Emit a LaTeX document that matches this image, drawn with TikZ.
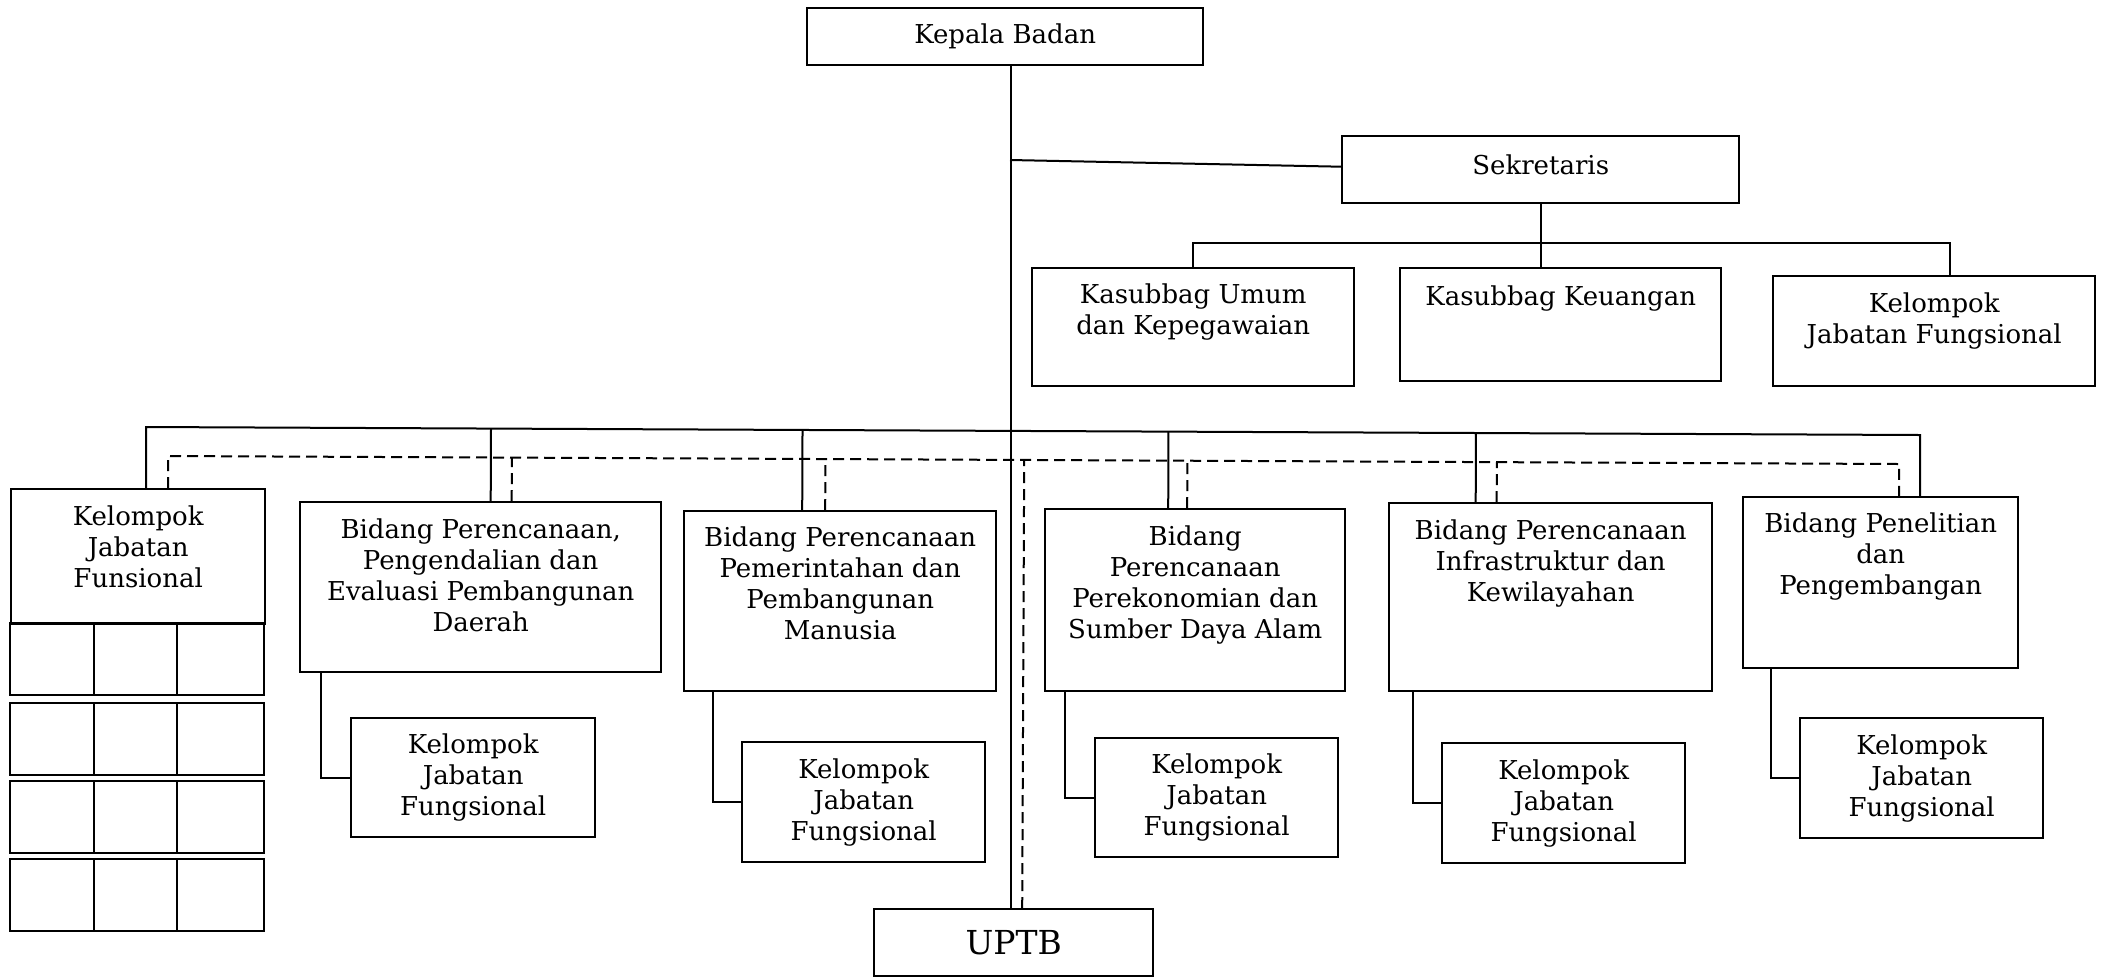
\documentclass[tikz,border=0pt]{standalone}
\usepackage{fontspec}
\setmainfont{DejaVu Serif}
\usetikzlibrary{positioning,calc}
\newcommand{\orgfont}{\fontsize{26}{31}\selectfont}
\tikzset{
  box/.style={draw, line width=2.4pt, inner sep=0pt, anchor=north west,
    align=center, font=\orgfont},
  txt/.style={inner sep=0pt, align=center, font=\orgfont},
  conn/.style={line width=2pt},
  dconn/.style={line width=2pt, dash pattern=on 11pt off 6pt},
}

\begin{document}
\begin{tikzpicture}[x=1pt,y=-1pt]
  \useasboundingbox (0,0) rectangle (2103,978);

  %% head and secretariat
  \node[box, minimum width=396pt, minimum height=57pt] (kep) at (806,7) {Kepala Badan};
  \node[box, minimum width=397pt, minimum height=67pt] (sek) at (1341,135) {};
  \node[txt] (sekt) at ([yshift=5pt]sek.center) {Sekretaris};
  \node[box, minimum width=322pt, minimum height=118pt] (umum) at (1031,267) {};
  \node[box, minimum width=321pt, minimum height=113pt] (keu) at (1399,267) {};
  \node[box, minimum width=322pt, minimum height=110pt] (kjfs) at (1772,275) {};
  \node[txt, below=17pt of umum.north] (umumt) {Kasubbag Umum\\dan Kepegawaian};
  \node[txt, below=19pt of keu.north] (keut) {Kasubbag Keuangan};
  \node[txt, below=18pt of kjfs.north] (kjfst) {Kelompok\\Jabatan Fungsional};

  %% bidang
  \node[box, minimum width=254pt, minimum height=135pt] (kjf0) at (10,488) {};
  \node[box, minimum width=361pt, minimum height=170pt] (bid1) at (299,501) {};
  \node[box, minimum width=312pt, minimum height=180pt] (bid2) at (683,510) {};
  \node[box, minimum width=300pt, minimum height=182pt] (bid3) at (1044,508) {};
  \node[box, minimum width=323pt, minimum height=188pt] (bid4) at (1388,502) {};
  \node[box, minimum width=275pt, minimum height=171pt] (pen) at (1742,496) {};

  \node[txt, below=18pt of kjf0.north] (kjf0t) {Kelompok\\Jabatan\\Funsional};
  \node[txt, below=18pt of bid1.north] (bid1t)
  {Bidang Perencanaan,\\Pengendalian dan\\Evaluasi Pembangunan\\Daerah};
  \node[txt, below=17pt of bid2.north] (bid2t)
  {Bidang Perencanaan\\Pemerintahan dan\\Pembangunan\\Manusia};
  \node[txt, below=18pt of bid3.north] (bid3t)
  {Bidang\\Perencanaan\\Perekonomian dan\\Sumber Daya Alam};
  \node[txt, below=18pt of bid4.north] (bid4t)
  {Bidang Perencanaan\\Infrastruktur dan\\Kewilayahan};
  \node[txt, below=17pt of pen.north] (pent)
  {Bidang Penelitian\\dan\\Pengembangan};

  %% kelompok jabatan fungsional
  \node[box, minimum width=244pt, minimum height=119pt] (kel1) at (350,717) {Kelompok\\Jabatan\\Fungsional};
  \node[box, minimum width=243pt, minimum height=120pt] (kel2) at (741,741) {Kelompok\\Jabatan\\Fungsional};
  \node[box, minimum width=243pt, minimum height=119pt] (kel3) at (1094,737) {Kelompok\\Jabatan\\Fungsional};
  \node[box, minimum width=243pt, minimum height=120pt] (kel4) at (1441,742) {Kelompok\\Jabatan\\Fungsional};
  \node[box, minimum width=243pt, minimum height=120pt] (kel5) at (1799,717) {Kelompok\\Jabatan\\Fungsional};

  \node[box, minimum width=279pt, minimum height=67pt,
    font=\fontsize{33}{40}\selectfont] (uptb) at (873,908) {UPTB};

  %% grid under kelompok
  \foreach \y in {623,703,781,859}
    \foreach \x/\w in {10/84,94/83,177/87}
      \draw[line width=2.4pt] (\x,\y) rectangle ++(\w,72);

  %% lines from the head
  \coordinate (mtop) at ([xshift=6pt]kep.south);
  \draw[conn] (mtop) -- (mtop |- uptb.north);
  \coordinate (jsek) at (1010,160);
  \draw[conn] (jsek) -- ([yshift=3pt]sek.west);
  \draw[conn] (sek.south) -- (sek.south |- keu.north);
  \draw[conn] (umum.north) -- ++(0,-24) -| ([xshift=16pt]kjfs.north);

  %% buses
  \coordinate (sa) at (146,427);
  \coordinate (sb) at (1920,435);
  \coordinate (da) at (168,456);
  \coordinate (db) at (1899,464);
  \draw[conn] (sa |- kjf0.north) -- (sa) -- (sb) -- (sb |- pen.north);
  \draw[dconn] (da |- kjf0.north) -- (da) -- (db) -- (db |- pen.north);

  \foreach \b/\s/\d in {bid1/10/31,bid2/-38/-15,bid3/-27/-8,bid4/-75/-54} {
    \coordinate (\b s) at ([xshift=\s pt]\b.north);
    \coordinate (\b d) at ([xshift=\d pt]\b.north);
    \draw[conn] (\b s) -- ($(sa)!(\b s)!(sb)$);
    \draw[dconn] (\b d) -- ($(da)!(\b d)!(db)$);
  }
  \coordinate (uptbd) at ([xshift=8.5pt]uptb.north);
  \draw[dconn] (uptbd) -- ($(da)!(uptbd)!(db)$);

  %% bidang to kelompok
  \foreach \b/\k/\o in {bid1/kel1/22,bid2/kel2/30,bid3/kel3/21,bid4/kel4/25,pen/kel5/29}
    \draw[conn] ([xshift=\o pt]\b.south west) |- (\k.west);

\end{tikzpicture}
\end{document}
